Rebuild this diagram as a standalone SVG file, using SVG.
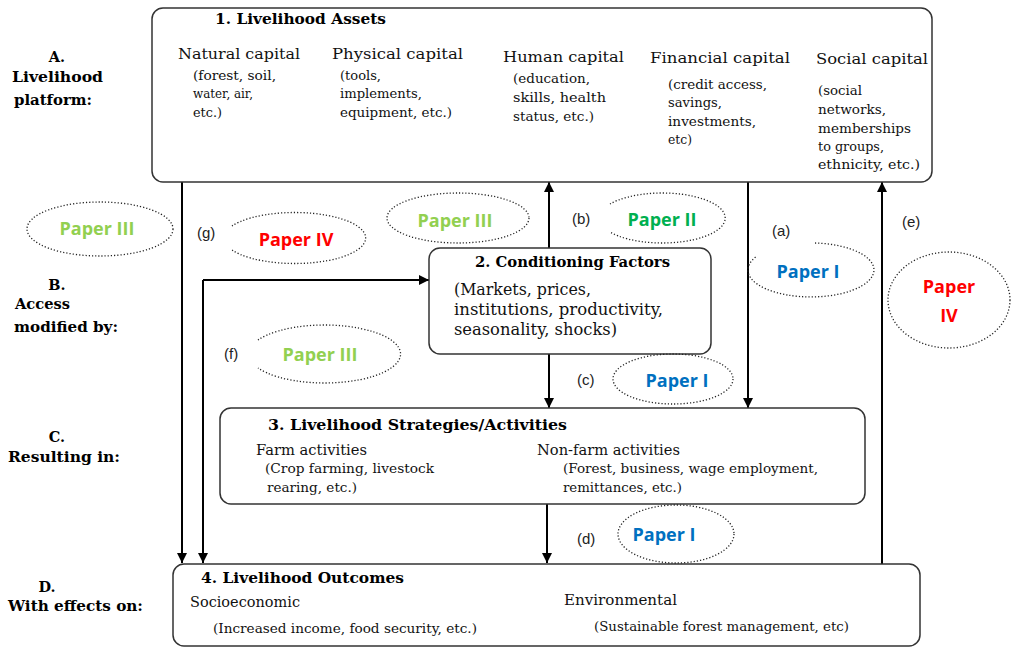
<svg xmlns="http://www.w3.org/2000/svg" width="1014" height="648" viewBox="0 0 1014 648">
<defs>
<marker id="ah" viewBox="0 0 10 10" refX="10" refY="5" markerWidth="10" markerHeight="10" markerUnits="userSpaceOnUse" orient="auto">
<path d="M0,0 L10,5 L0,10 Z" fill="#000"/>
</marker>
<style>
.box{fill:#fff;stroke:#333;stroke-width:1.5}
.ell{fill:none;stroke:#222;stroke-width:1.3;stroke-dasharray:1.2 2}
.con{fill:none;stroke:#000;stroke-width:2}
.arr{marker-end:url(#ah)}
.hd{font-family:"DejaVu Serif",serif;font-weight:bold;font-size:14px;fill:#000}
.lb{font-family:"DejaVu Serif",serif;font-weight:bold;font-size:14.5px;fill:#000}
.t1{font-family:"DejaVu Serif",serif;font-size:15px;fill:#111}
.t2{font-family:"DejaVu Serif",serif;font-size:12px;fill:#111}
.t3{font-family:"DejaVu Serif",serif;font-size:16px;fill:#111}
.pp{font-family:"Open Sans","Liberation Sans",sans-serif;font-weight:bold;font-size:18px;text-anchor:middle}
.g1{fill:#92D050}.g2{fill:#00B050}.bl{fill:#0070C0}.rd{fill:#FF0000}
.lt{font-family:"Liberation Sans",sans-serif;font-size:15px;fill:#222}
</style>
</defs>

<g id="connectors">
<line class="con arr" x1="182" y1="182" x2="182" y2="563"/>
<polyline class="con arr" points="203,280 203,563"/>
<line class="con arr" x1="203" y1="280" x2="429" y2="280"/>
<line class="con arr" x1="549" y1="248" x2="549" y2="182"/>
<line class="con arr" x1="549" y1="354" x2="549" y2="408"/>
<line class="con arr" x1="748" y1="182" x2="748" y2="408"/>
<line class="con arr" x1="882" y1="564" x2="882" y2="182"/>
<line class="con arr" x1="547" y1="504" x2="547" y2="563"/>
</g>

<g id="node-assets">
<rect class="box" x="152" y="8" width="780" height="174" rx="11"/>
<text class="hd" x="215" y="24" textLength="171" lengthAdjust="spacingAndGlyphs">1. Livelihood Assets</text>
<text class="t1" x="178" y="59" textLength="122" lengthAdjust="spacingAndGlyphs">Natural capital</text>
<text class="t2" x="193" y="80" textLength="83" lengthAdjust="spacingAndGlyphs">(forest, soil,</text>
<text class="t2" x="193" y="98" textLength="60" lengthAdjust="spacingAndGlyphs">water, air,</text>
<text class="t2" x="193" y="117" textLength="29" lengthAdjust="spacingAndGlyphs">etc.)</text>
<text class="t1" x="332" y="59" textLength="131" lengthAdjust="spacingAndGlyphs">Physical capital</text>
<text class="t2" x="340" y="80" textLength="41" lengthAdjust="spacingAndGlyphs">(tools,</text>
<text class="t2" x="340" y="98" textLength="82" lengthAdjust="spacingAndGlyphs">implements,</text>
<text class="t2" x="340" y="117" textLength="112" lengthAdjust="spacingAndGlyphs">equipment, etc.)</text>
<text class="t1" x="503" y="62" textLength="121" lengthAdjust="spacingAndGlyphs">Human capital</text>
<text class="t2" x="513" y="83" textLength="77" lengthAdjust="spacingAndGlyphs">(education,</text>
<text class="t2" x="513" y="102" textLength="93" lengthAdjust="spacingAndGlyphs">skills, health</text>
<text class="t2" x="513" y="121" textLength="81" lengthAdjust="spacingAndGlyphs">status, etc.)</text>
<text class="t1" x="650" y="63" textLength="140" lengthAdjust="spacingAndGlyphs">Financial capital</text>
<text class="t2" x="668" y="89" textLength="99" lengthAdjust="spacingAndGlyphs">(credit access,</text>
<text class="t2" x="668" y="107" textLength="54" lengthAdjust="spacingAndGlyphs">savings,</text>
<text class="t2" x="668" y="126" textLength="88" lengthAdjust="spacingAndGlyphs">investments,</text>
<text class="t2" x="668" y="144" textLength="24" lengthAdjust="spacingAndGlyphs">etc)</text>
<text class="t1" x="816" y="64" textLength="112" lengthAdjust="spacingAndGlyphs">Social capital</text>
<text class="t2" x="818" y="95" textLength="44" lengthAdjust="spacingAndGlyphs">(social</text>
<text class="t2" x="818" y="114" textLength="68" lengthAdjust="spacingAndGlyphs">networks,</text>
<text class="t2" x="818" y="133" textLength="93" lengthAdjust="spacingAndGlyphs">memberships</text>
<text class="t2" x="818" y="151" textLength="66" lengthAdjust="spacingAndGlyphs">to groups,</text>
<text class="t2" x="818" y="169" textLength="102" lengthAdjust="spacingAndGlyphs">ethnicity, etc.)</text>
</g>

<g id="node-conditioning">
<rect class="box" x="429" y="248" width="282" height="106" rx="11"/>
<text class="hd" x="475" y="267" textLength="195" lengthAdjust="spacingAndGlyphs">2. Conditioning Factors</text>
<text class="t3" x="454" y="295" textLength="137" lengthAdjust="spacingAndGlyphs">(Markets, prices,</text>
<text class="t3" x="454" y="315" textLength="209" lengthAdjust="spacingAndGlyphs">institutions, productivity,</text>
<text class="t3" x="454" y="335" textLength="163" lengthAdjust="spacingAndGlyphs">seasonality, shocks)</text>
</g>

<g id="node-strategies">
<rect class="box" x="220" y="408" width="645" height="96" rx="11"/>
<text class="hd" x="268" y="430" textLength="299" lengthAdjust="spacingAndGlyphs">3. Livelihood Strategies/Activities</text>
<text class="t1" x="256" y="455" textLength="111" lengthAdjust="spacingAndGlyphs">Farm activities</text>
<text class="t2" x="265" y="473" textLength="169" lengthAdjust="spacingAndGlyphs">(Crop farming, livestock</text>
<text class="t2" x="267" y="492" textLength="90" lengthAdjust="spacingAndGlyphs">rearing, etc.)</text>
<text class="t1" x="537" y="455" textLength="143" lengthAdjust="spacingAndGlyphs">Non-farm activities</text>
<text class="t2" x="563" y="473" textLength="255" lengthAdjust="spacingAndGlyphs">(Forest, business, wage employment,</text>
<text class="t2" x="563" y="492" textLength="119" lengthAdjust="spacingAndGlyphs">remittances, etc.)</text>
</g>

<g id="node-outcomes">
<rect class="box" x="173" y="564" width="747" height="82" rx="11"/>
<text class="hd" x="201" y="583" textLength="203" lengthAdjust="spacingAndGlyphs">4. Livelihood Outcomes</text>
<text class="t1" x="190" y="607" textLength="110" lengthAdjust="spacingAndGlyphs">Socioeconomic</text>
<text class="t2" x="213" y="633" textLength="264" lengthAdjust="spacingAndGlyphs">(Increased income, food security, etc.)</text>
<text class="t1" x="564" y="605" textLength="113" lengthAdjust="spacingAndGlyphs">Environmental</text>
<text class="t2" x="594" y="631" textLength="255" lengthAdjust="spacingAndGlyphs">(Sustainable forest management, etc)</text>
</g>

<g id="row-labels">
<text class="lb" x="57" y="62" text-anchor="middle">A.</text>
<text class="lb" x="12" y="82" textLength="91" lengthAdjust="spacingAndGlyphs">Livelihood</text>
<text class="lb" x="14" y="105" textLength="78" lengthAdjust="spacingAndGlyphs">platform:</text>
<text class="lb" x="57" y="290" text-anchor="middle">B.</text>
<text class="lb" x="15" y="309" textLength="55" lengthAdjust="spacingAndGlyphs">Access</text>
<text class="lb" x="14" y="332" textLength="104" lengthAdjust="spacingAndGlyphs">modified by:</text>
<text class="lb" x="57" y="442" text-anchor="middle">C.</text>
<text class="lb" x="8" y="462" textLength="112" lengthAdjust="spacingAndGlyphs">Resulting in:</text>
<text class="lb" x="47" y="592" text-anchor="middle">D.</text>
<text class="lb" x="8" y="611" textLength="135" lengthAdjust="spacingAndGlyphs">With effects on:</text>
</g>

<g id="paper-left-III">
<ellipse class="ell" cx="100" cy="229" rx="73" ry="27"/>
<text class="pp g1" x="97" y="235">Paper III</text>
</g>
<g id="paper-g-IV">
<path class="ell" d="M232,226 A71,25.5 0 1,1 232,250"/>
<text class="pp rd" x="296" y="246">Paper IV</text>
<text class="lt" x="197" y="238">(g)</text>
</g>
<g id="paper-mid-III">
<ellipse class="ell" cx="458" cy="218" rx="71" ry="25"/>
<text class="pp g1" x="455" y="227">Paper III</text>
</g>
<g id="paper-b-II">
<path class="ell" d="M610,204 A63,25 0 1,1 610,232"/>
<text class="pp g2" x="662" y="226">Paper II</text>
<text class="lt" x="572" y="224">(b)</text>
</g>
<g id="paper-a-I">
<path class="ell" d="M815,243 A63,27 0 1,1 757,256"/>
<text class="pp bl" x="808" y="278">Paper I</text>
<text class="lt" x="772" y="236">(a)</text>
</g>
<g id="paper-e-IV">
<ellipse class="ell" cx="949" cy="300" rx="61" ry="48"/>
<text class="pp rd" x="949" y="293">Paper</text>
<text class="pp rd" x="949" y="322">IV</text>
<text class="lt" x="902" y="227">(e)</text>
</g>
<g id="paper-f-III">
<path class="ell" d="M258,340 A76,29 0 1,1 258,368"/>
<text class="pp g1" x="320" y="361">Paper III</text>
<text class="lt" x="224" y="359">(f)</text>
</g>
<g id="paper-c-I">
<ellipse class="ell" cx="673" cy="379" rx="60" ry="25"/>
<text class="pp bl" x="677" y="387">Paper I</text>
<text class="lt" x="577" y="385">(c)</text>
</g>
<g id="paper-d-I">
<ellipse class="ell" cx="676" cy="534" rx="58" ry="29"/>
<text class="pp bl" x="664" y="541">Paper I</text>
<text class="lt" x="577" y="544">(d)</text>
</g>
</svg>
